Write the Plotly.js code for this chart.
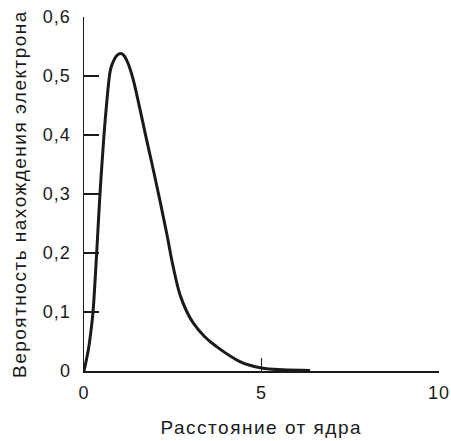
<!DOCTYPE html>
<html>
<head>
<meta charset="utf-8">
<script src="https://cdn.plot.ly/plotly-3.0.1.min.js"></script>
<style>
html,body{margin:0;padding:0;background:#fff;}
#chart{width:451px;height:441px;}
#chart text{letter-spacing:1px;}
#chart text.annotation-text{letter-spacing:1.5px;}
</style>
</head>
<body>
<div id="chart"></div>
<script>
const distance = [0, 0.12, 0.2, 0.254, 0.357, 0.45, 0.563, 0.64, 0.723, 0.76, 0.8, 0.86, 0.93, 1.03, 1.12, 1.2, 1.27, 1.39, 1.77, 2.0, 2.33, 2.5, 2.7, 2.9, 3.08, 3.4, 3.74, 4.39, 5.0, 5.6, 6.37];
const probability = [0, 0.035, 0.07, 0.1, 0.2, 0.3, 0.4, 0.455, 0.503, 0.514, 0.521, 0.529, 0.535, 0.538, 0.535, 0.527, 0.517, 0.493, 0.39, 0.328, 0.233, 0.18, 0.13, 0.1, 0.081, 0.058, 0.041, 0.016, 0.005, 0.002, 0.001];
const xTickValues = [0, 5, 10];
const xTickLabels = ["0", "5", "10"];
const xTitle = "Расстояние от ядра";
const yTitle = "Вероятность нахождения электрона";

const font = "Liberation Sans, Arial, sans-serif";
const ink = "#1a1a1a";

Plotly.newPlot("chart", [{
  x: distance,
  y: probability,
  type: "scatter",
  mode: "lines",
  line: {color: ink, width: 3, shape: "spline", smoothing: 1},
  hoverinfo: "skip"
}], {
  width: 451,
  height: 441,
  margin: {l: 84, r: 12, t: 17, b: 70},
  paper_bgcolor: "#fff",
  plot_bgcolor: "#fff",
  separators: ", ",
  showlegend: false,
  font: {family: font, size: 18, color: ink},
  xaxis: {
    range: [0, 10],
    tickvals: xTickValues,
    ticktext: xTickLabels,
    ticks: "inside",
    ticklen: 13,
    tickwidth: 1.5,
    tickcolor: ink,
    showline: true,
    linecolor: ink,
    linewidth: 1.5,
    showgrid: false,
    zeroline: false,
    tickfont: {family: font, size: 18, color: ink},
    ticklabelstandoff: 5
  },
  yaxis: {
    range: [0, 0.6],
    dtick: 0.1,
    tick0: 0,
    ticks: "inside",
    ticklen: 15,
    tickwidth: 1.5,
    tickcolor: ink,
    showline: true,
    linecolor: ink,
    linewidth: 1.5,
    showgrid: false,
    zeroline: false,
    tickfont: {family: font, size: 18, color: ink},
    ticklabelstandoff: 8
  },
  annotations: [
    {
      text: xTitle, xref: "paper", yref: "paper",
      x: 0.5, y: -56 / 354, xanchor: "center", yanchor: "middle",
      showarrow: false, font: {family: font, size: 19, color: ink}
    },
    {
      text: yTitle, xref: "paper", yref: "paper", textangle: -90,
      x: -65 / 355, y: 0.5, xanchor: "center", yanchor: "middle",
      showarrow: false, font: {family: font, size: 19, color: ink}
    }
  ]
}, {displayModeBar: false, staticPlot: true});
</script>
</body>
</html>
